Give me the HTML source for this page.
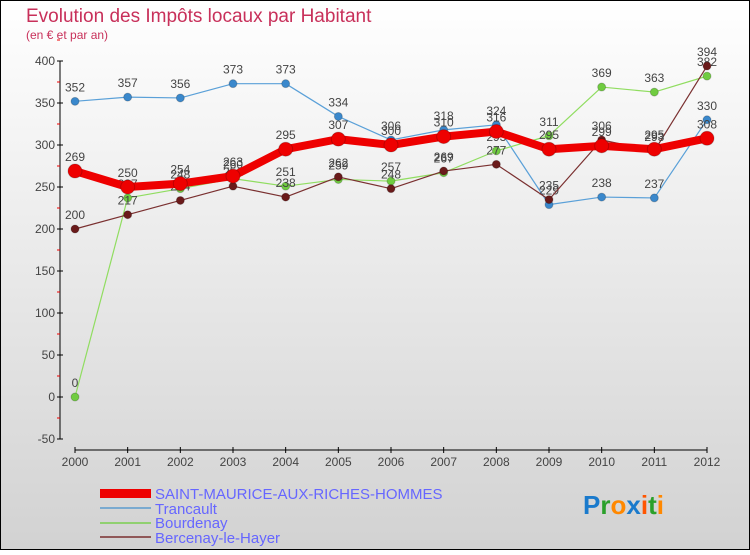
<!DOCTYPE html>
<html><head><meta charset="utf-8"><style>
body{margin:0;width:750px;height:550px;overflow:hidden;font-family:"Liberation Sans",sans-serif}
</style></head><body>
<svg id="chart" width="750" height="550" xmlns="http://www.w3.org/2000/svg">
<defs><linearGradient id="bg" x1="0" y1="0" x2="0" y2="1"><stop offset="0" stop-color="#ffffff"/><stop offset="1" stop-color="#d2d2d2"/></linearGradient></defs>
<rect x="0.5" y="0.5" width="749" height="549" fill="url(#bg)" stroke="#000" stroke-width="1"/>
<text x="26" y="22" font-size="19" fill="#c8305a">Evolution des Impôts locaux par Habitant</text>
<text x="26" y="39" font-size="12" fill="#c8305a">(en € et par an)</text>
<g id="axes"></g>
<g id="series"></g>
<g id="legend">
<rect x="100" y="489" width="51" height="9" fill="#e00"/>
<text x="155" y="499" font-size="15" fill="#6666ff">SAINT-MAURICE-AUX-RICHES-HOMMES</text>
<line x1="100" y1="508" x2="151" y2="508" stroke="#7aaad0" stroke-width="2"/>
<text x="155" y="514" font-size="15" fill="#6666ff">Trancault</text>
<line x1="100" y1="523" x2="151" y2="523" stroke="#90d070" stroke-width="2"/>
<text x="155" y="528" font-size="15" fill="#6666ff">Bourdenay</text>
<line x1="100" y1="537" x2="151" y2="537" stroke="#905858" stroke-width="2"/>
<text x="155" y="543" font-size="15" fill="#6666ff">Bercenay-le-Hayer</text>
</g>
<g font-size="26" font-weight="bold">
<text x="583" y="514"><tspan fill="#1a7acc">P</tspan><tspan fill="#2aa02a">r</tspan><tspan fill="#ff8800">o</tspan><tspan fill="#1a7acc">x</tspan><tspan fill="#ff5500">i</tspan><tspan fill="#2aa02a">t</tspan><tspan fill="#ff8800">i</tspan></text>
</g>
</svg>
<script>
const years=[2000,2001,2002,2003,2004,2005,2006,2007,2008,2009,2010,2011,2012];
const saintMaurice=[269,250,254,263,295,307,300,310,316,295,299,295,308];
const trancault=[352,357,356,373,373,334,306,318,324,229,238,237,330];
const bourdenay=[0,237,248,260,251,259,257,267,293,311,369,363,382];
const bercenay=[200,217,234,251,238,262,248,269,277,235,306,293,394];
const yTicks=[-50,0,50,100,150,200,250,300,350,400];
const NS="http://www.w3.org/2000/svg";
function xs(i){return 75+i*(707-75)/12;}
function ys(v){return 397-v*0.84;}
function mk(tag,attrs,parent){const e=document.createElementNS(NS,tag);for(const k in attrs)e.setAttribute(k,attrs[k]);parent.appendChild(e);return e;}
const ax=document.getElementById('axes');
let yl=mk('line',{x1:60,y1:ys(400),x2:60,y2:ys(-50),stroke:'#000','stroke-width':1},ax);


yTicks.forEach(t=>{
 mk('line',{x1:57,y1:ys(t),x2:63,y2:ys(t),stroke:'#000'},ax);
 mk('line',{x1:57,y1:ys(t+25),x2:60,y2:ys(t+25),stroke:'#e00'},ax);
 const tx=mk('text',{x:55,y:ys(t)+4,'font-size':12,'text-anchor':'end',fill:'#444'},ax);
 tx.textContent=t;
 
 
});
let xl=mk('line',{x1:xs(0),y1:450,x2:xs(12),y2:450,stroke:'#000'},ax);


years.forEach((y,i)=>{
 mk('line',{x1:xs(i),y1:447,x2:xs(i),y2:453,stroke:'#000'},ax);
 const tx=mk('text',{x:xs(i),y:466,'font-size':12,'text-anchor':'middle',fill:'#444'},ax);
 tx.textContent=y;
 
 
});
const sg=document.getElementById('series');
function draw(vals,name,color,dot,w,r){
 const g=mk('g',{},sg);
 
 
 mk('polyline',{points:vals.map((v,i)=>xs(i)+','+ys(v)).join(' '),fill:'none',stroke:color,'stroke-width':w,'stroke-linejoin':'round'},g);
 vals.forEach((v,i)=>{
  const c=mk('circle',{cx:xs(i),cy:ys(v),r:r,fill:dot,stroke:'#0003'},g);
  
  
  const t=mk('text',{x:xs(i),y:ys(v)-10,'font-size':12,'text-anchor':'middle',fill:'#444'},g);
  t.textContent=v;
 });
}
draw(trancault,'trancault','#5aa0d8','#3a88cc',1.2,4);
draw(bourdenay,'bourdenay','#90dd60','#70cc40',1.2,4);
draw(bercenay,'bercenay','#7a3030','#6a1a1a',1.2,4);
draw(saintMaurice,'saint-maurice','#ee0000','#ee0000',8,7);
</script>
</body></html>
